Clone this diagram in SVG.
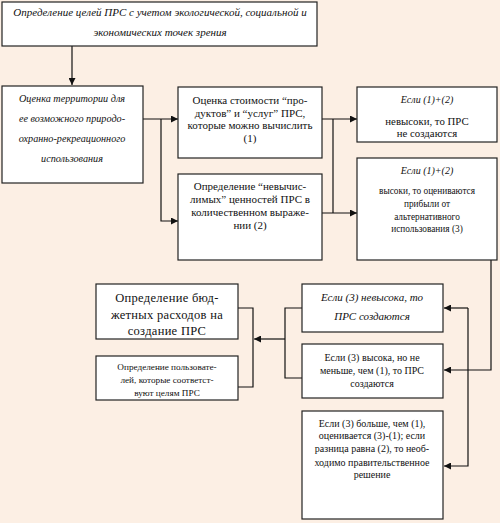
<svg xmlns="http://www.w3.org/2000/svg" width="500" height="523" viewBox="0 0 500 523">
<style>
.bx{fill:#fff;stroke:#222;stroke-width:1.2}
.t{font-family:'Liberation Serif','DejaVu Serif',serif;font-size:11px;fill:#111;text-anchor:middle}
.i{font-style:italic}
.c{fill:none;stroke:#111;stroke-width:1.2}
</style>
<defs>
<marker id="a" viewBox="0 0 10 10" refX="10" refY="5" markerWidth="7" markerHeight="7" markerUnits="userSpaceOnUse" orient="auto"><path d="M0,0L10,5L0,10z" fill="#111"/></marker>
</defs>
<rect width="500" height="523" fill="#fcefe4"/>
<g id="connectors">
<path class="c" d="M72,46V85" marker-end="url(#a)"/>
<path class="c" d="M143,119H178" marker-end="url(#a)"/>
<path class="c" d="M161,119V221H178" marker-end="url(#a)"/>
<path class="c" d="M322,119H357" marker-end="url(#a)"/>
<path class="c" d="M322,213H357" marker-end="url(#a)"/>
<path class="c" d="M333,119V213"/>
<path class="c" d="M491,260V370H444" marker-end="url(#a)"/>
<path class="c" d="M468,308V466H444" marker-end="url(#a)"/>
<path class="c" d="M468,308H444" marker-end="url(#a)"/>
<path class="c" d="M302,308H285V378H302"/>
<path class="c" d="M285,339H254" marker-end="url(#a)"/>
<path class="c" d="M238,308H253V387H238"/>
</g>
<g id="n1"><rect class="bx" x="2" y="2" width="315" height="44"/>
<text class="t i" x="160" y="16">Определение целей ПРС с учетом экологической, социальной и</text>
<text class="t i" x="160" y="36">экономических точек зрения</text></g>
<g id="n2"><rect class="bx" x="2" y="86" width="141" height="97"/>
<text class="t i" x="72" y="102" style="font-size:10.2px">Оценка территории для</text>
<text class="t i" x="72" y="122" style="font-size:10.2px">ее возможного природо-</text>
<text class="t i" x="72" y="142" style="font-size:10.2px">охранно-рекреационного</text>
<text class="t i" x="72" y="162" style="font-size:10.2px">использования</text></g>
<g id="n3"><rect class="bx" x="178" y="87" width="144" height="71"/>
<text class="t" x="250" y="104">Оценка стоимости “про-</text>
<text class="t" x="250" y="117">дуктов” и “услуг” ПРС,</text>
<text class="t" x="250" y="129">которые можно вычислить</text>
<text class="t" x="250" y="142">(1)</text></g>
<g id="n4"><rect class="bx" x="178" y="174" width="144" height="86"/>
<text class="t" x="250" y="190">Определение “невычис-</text>
<text class="t" x="250" y="203">лимых” ценностей ПРС в</text>
<text class="t" x="250" y="216">количественном выраже-</text>
<text class="t" x="250" y="229">нии (2)</text></g>
<g id="n5"><rect class="bx" x="357" y="87" width="140" height="55"/>
<text class="t i" x="427" y="103" style="font-size:10px">Если (1)+(2)</text>
<text class="t" x="427" y="125" style="font-size:10.8px">невысоки, то ПРС</text>
<text class="t" x="427" y="137" style="font-size:10.8px">не создаются</text></g>
<g id="n6"><rect class="bx" x="357" y="158" width="140" height="102"/>
<text class="t i" x="427" y="174" style="font-size:10px">Если (1)+(2)</text>
<text class="t" x="427" y="194" style="font-size:9.3px">высоки, то оцениваются</text>
<text class="t" x="427" y="207" style="font-size:9.3px">прибыли от</text>
<text class="t" x="427" y="220" style="font-size:9.3px">альтернативного</text>
<text class="t" x="427" y="232" style="font-size:9.3px">использования (3)</text></g>
<g id="n7"><rect class="bx" x="302" y="284" width="141" height="48"/>
<text class="t i" x="372" y="301" style="font-size:11px">Если (3) невысока, то</text>
<text class="t i" x="372" y="320" style="font-size:11px">ПРС создаются</text></g>
<g id="n8"><rect class="bx" x="302" y="344" width="141" height="54"/>
<text class="t" x="372" y="361" style="font-size:10px">Если (3) высока, но не</text>
<text class="t" x="372" y="374" style="font-size:10px">меньше, чем (1), то ПРС</text>
<text class="t" x="372" y="387" style="font-size:10px">создаются</text></g>
<g id="n9"><rect class="bx" x="302" y="411" width="141" height="108"/>
<text class="t" x="372" y="427" style="font-size:10px">Если (3) больше, чем (1),</text>
<text class="t" x="372" y="439" style="font-size:10px">оценивается (3)-(1); если</text>
<text class="t" x="372" y="452" style="font-size:10px">разница равна (2), то необ-</text>
<text class="t" x="372" y="466" style="font-size:10px">ходимо правительственное</text>
<text class="t" x="372" y="478" style="font-size:10px">решение</text></g>
<g id="n10"><rect class="bx" x="96" y="284" width="142" height="55"/>
<text class="t" x="167" y="302" style="font-size:12.5px;letter-spacing:0.3px">Определение бюд-</text>
<text class="t" x="167" y="319" style="font-size:12.5px;letter-spacing:0.3px">жетных расходов на</text>
<text class="t" x="167" y="335" style="font-size:12.5px;letter-spacing:0.3px">создание ПРС</text></g>
<g id="n11"><rect class="bx" x="96" y="356" width="142" height="44"/>
<text class="t" x="167" y="370" style="font-size:9.2px">Определение пользовате-</text>
<text class="t" x="167" y="383" style="font-size:9.2px">лей, которые соответст-</text>
<text class="t" x="167" y="396" style="font-size:9.2px">вуют целям ПРС</text></g>
</svg>
